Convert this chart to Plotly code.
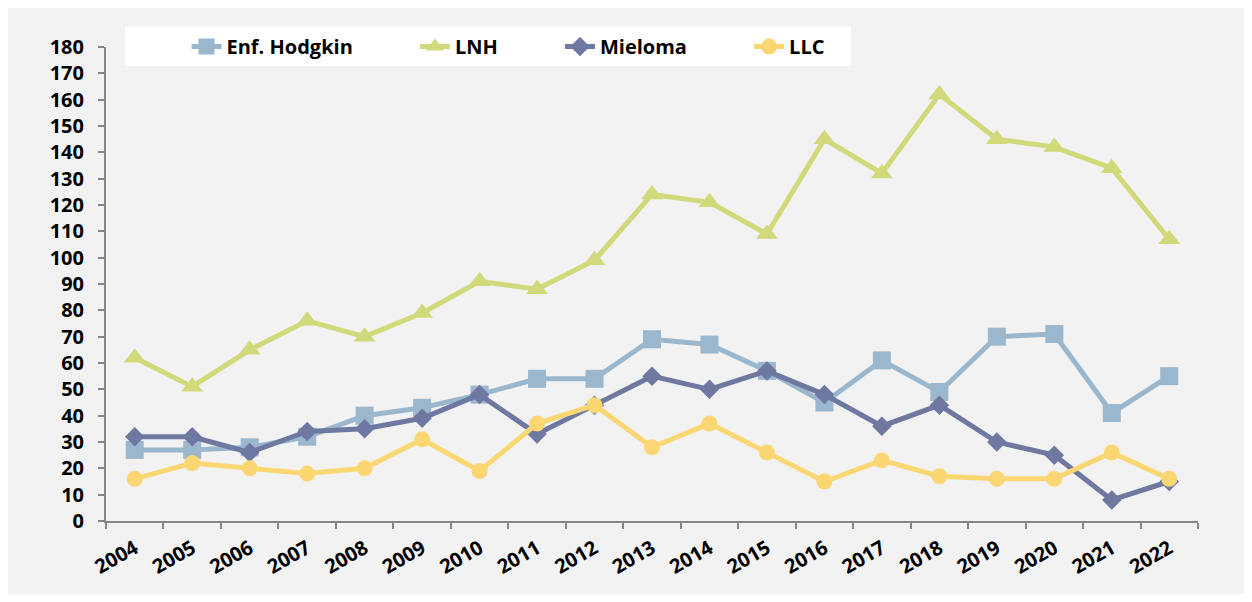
import plotly.graph_objects as go

years = [str(y) for y in range(2004, 2023)]

hodgkin = [27, 27, 28, 32, 40, 43, 48, 54, 54, 69, 67, 57, 45, 61, 49, 70, 71, 41, 55]
lnh = [62, 51, 65, 76, 70, 79, 91, 88, 99, 124, 121, 109, 145, 132, 162, 145, 142, 134, 107]
mieloma = [32, 32, 26, 34, 35, 39, 48, 33, 44, 55, 50, 57, 48, 36, 44, 30, 25, 8, 15]
llc = [16, 22, 20, 18, 20, 31, 19, 37, 44, 28, 37, 26, 15, 23, 17, 16, 16, 26, 16]

series_names = ['Enf. Hodgkin', 'LNH', 'Mieloma', 'LLC']
series_values = [hodgkin, lnh, mieloma, llc]

# styling per series: colour, marker symbol, marker size
styles = [
    ('rgb(155,183,205)', 'square', 18),
    ('rgb(209,217,122)', 'triangle-up', 19),
    ('rgb(110,120,160)', 'diamond', 15),
    ('rgb(250,215,115)', 'circle', 16),
]

FONT = 'Open Sans'
NBSP = '\u00a0'
# extra room after each legend entry, like the Excel legend (less after the last one)
pads = [NBSP * 11, NBSP * 11, NBSP * 11, NBSP * 4]

fig = go.Figure()
for name, vals, (color, symbol, size), pad in zip(series_names, series_values, styles, pads):
    fig.add_trace(go.Scatter(
        x=years,
        y=vals,
        mode='lines+markers',
        name=name + pad,
        line=dict(color=color, width=5),
        marker=dict(symbol=symbol, size=size, color=color),
    ))

# page body adds an 8px margin, so the figure is a bit smaller than the window
fig.update_layout(
    width=1236,
    height=586,
    margin=dict(l=98, r=46, t=39, b=73),
    paper_bgcolor='#F2F2F2',
    plot_bgcolor='rgba(0,0,0,0)',
    font=dict(family=FONT, size=16, color='black'),
    showlegend=True,
    legend=dict(
        orientation='h',
        x=0.017, y=1.042,
        xanchor='left', yanchor='top',
        bgcolor='white',
        title=dict(text=NBSP * 10, font=dict(size=20)),
        font=dict(family=FONT, size=20, color='black', weight='bold'),
        tracegroupgap=0,
    ),
)

fig.update_xaxes(
    type='category',
    range=[-0.5, len(years) - 0.5],
    showline=True, linecolor='#868686', linewidth=2,
    ticks='outside', tickson='boundaries', ticklen=6, tickcolor='#868686', tickwidth=2,
    tickangle=-30,
    ticklabelstandoff=6,
    tickfont=dict(family=FONT, size=20, color='black', weight='bold'),
    showgrid=False, zeroline=False,
)
fig.update_yaxes(
    range=[0, 180], dtick=10,
    showline=True, linecolor='#868686', linewidth=2,
    ticks='outside', ticklen=6, tickcolor='#868686', tickwidth=2,
    ticklabelstandoff=10,
    tickfont=dict(family=FONT, size=20, color='black', weight='bold'),
    showgrid=False, zeroline=False,
)

fig.write_html("out.html")
